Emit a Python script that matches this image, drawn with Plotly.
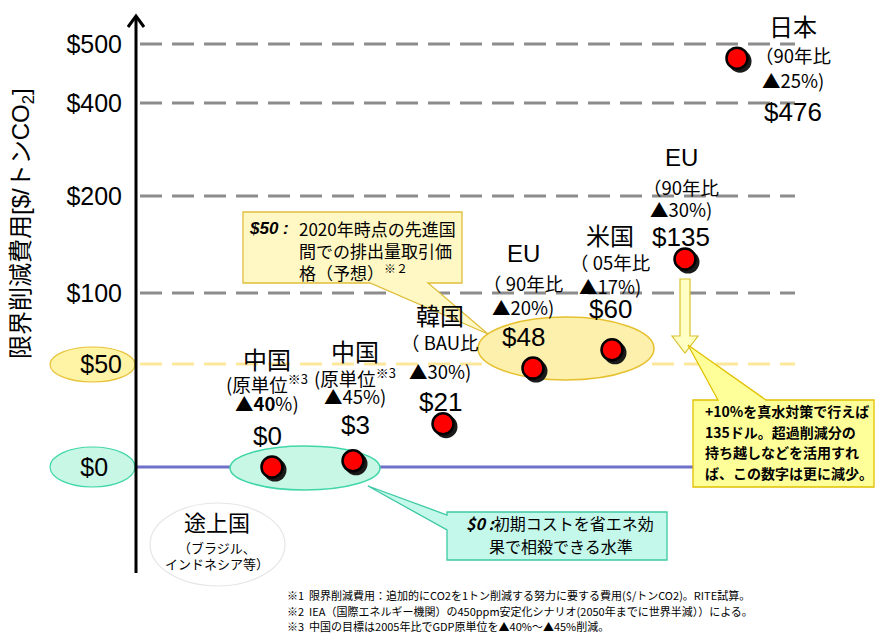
import numpy as np
import plotly.graph_objects as go

# ---------------- data ----------------
countries  = ["中国", "中国", "韓国", "EU", "米国", "EU", "日本"]
base_years = ["(原単位<sup>※3</sup>", "(原単位<sup>※3</sup>", "（ BAU比", "（ 90年比",
              "（ 05年比", "（90年比", "（90年比"]
reductions = ["<b>▲40</b>%)", "▲45%)", "▲30%)", "▲20%)", "▲17%)", "▲30%)", "▲25%)"]
costs      = [0, 3, 21, 48, 60, 135, 476]

tick_values = [0, 50, 100, 200, 400, 500]
tick_labels = ["$0", "$50", "$100", "$200", "$400", "$500"]

footnotes = [
    "※1  限界削減費用：追加的にCO2を1トン削減する努力に要する費用($/トンCO2)。RITE試算。",
    "※2  IEA（国際エネルギー機関）の450ppm安定化シナリオ(2050年までに世界半減））による。",
    "※3  中国の目標は2005年比でGDP原単位を▲40%～▲45%削減。",
]

# ---------------- layout constants ----------------
W, H = 875, 635
AXIS_X = 136
FONT = "Liberation Sans, Noto Sans CJK JP, sans-serif"
JP = "Noto Sans CJK JP, sans-serif"

# the cost axis is piecewise: each tick sits at its own row of the canvas
tick_rows = [467, 364, 293, 196, 103, 44]


def to_axis(v):
    return H - np.interp(v, tick_values, tick_rows)


def row(p):
    return H - p


x_pos = [272, 353, 443, 533, 612, 685, 737]
label_x = [267, 355, 440, 523, 610, 681, 793]
label_rows = [(360, 383, 403, 436), (352, 377, 396, 425), (316, 342, 371, 402),
              (253, 283, 307, 337), (236, 262, 286, 309), (157, 187, 209, 237),
              (27, 55, 80, 112)]

y_pts = to_axis(np.array(costs, dtype=float))

fig = go.Figure()

# drop shadow under each marker
fig.add_trace(go.Scatter(
    x=np.array(x_pos) + 3, y=y_pts - 3, mode="markers",
    marker=dict(size=23, color="#1a1a1a", line=dict(width=0)),
    hoverinfo="skip", showlegend=False))
fig.add_trace(go.Scatter(
    x=x_pos, y=y_pts, mode="markers",
    marker=dict(size=21, color="#ff0000", line=dict(width=2.5, color="#000000")),
    text=countries, showlegend=False))

shapes = []

# reference lines
for v in tick_values:
    if v == 0:
        shapes.append(dict(type="line", x0=AXIS_X, x1=795, y0=to_axis(v), y1=to_axis(v),
                           line=dict(color="#7070c8", width=3), layer="below"))
    elif v == 50:
        shapes.append(dict(type="line", x0=140, x1=795, y0=to_axis(v), y1=to_axis(v),
                           line=dict(color="#fde79a", width=3, dash="22px,10px"), layer="below"))
    else:
        shapes.append(dict(type="line", x0=140, x1=795, y0=to_axis(v), y1=to_axis(v),
                           line=dict(color="#8c8c8c", width=3, dash="22px,10px"), layer="below"))

# ellipses behind tick labels
shapes.append(dict(type="circle", x0=50, x1=135, y0=to_axis(50) - 18, y1=to_axis(50) + 17,
                   fillcolor="#fff3a6", line=dict(color="#e8c23a", width=1.2), layer="below"))
shapes.append(dict(type="circle", x0=50, x1=135, y0=to_axis(0) - 20, y1=to_axis(0) + 20,
                   fillcolor="#c8f7e6", line=dict(color="#3fd6a8", width=1.2), layer="below"))

# group ellipses
shapes.append(dict(type="circle", x0=478, x1=654, y0=row(380), y1=row(317),
                   fillcolor="#fdf0ad", line=dict(color="#e6c02e", width=1.5), layer="below"))
shapes.append(dict(type="circle", x0=230, x1=380, y0=row(490), y1=row(446),
                   fillcolor="#c8f7e6", line=dict(color="#3fd6a8", width=1.5), layer="below"))
shapes.append(dict(type="circle", x0=150, x1=285, y0=row(586), y1=row(503),
                   fillcolor="#ffffff", line=dict(color="#e6e6e6", width=1.2), layer="below"))


def path(points):
    return "M " + " L ".join(f"{x},{row(y)}" for x, y in points) + " Z"


# callout: $50 carbon price
shapes.append(dict(type="path", path=path([(243, 212), (462, 212), (462, 283), (428, 283),
                                           (488, 334), (370, 283), (243, 283)]),
                   fillcolor="#fff8c4", line=dict(color="#e0bd3c", width=1.3)))
# callout: $0 developing countries
shapes.append(dict(type="path", path=path([(447, 512), (667, 512), (667, 560), (447, 560),
                                           (447, 530), (368, 486), (447, 515)]),
                   fillcolor="#c4f8ea", line=dict(color="#3cc9a4", width=1.3)))
# down arrow under EU $135
shapes.append(dict(type="path", path=path([(680, 279), (690, 279), (690, 336), (698, 336),
                                           (685, 353), (672, 336), (680, 336)]),
                   fillcolor="#ffffc4", line=dict(color="#d9c22e", width=1.2)))
# callout: note on $135
shapes.append(dict(type="path", path=path([(693, 400), (718, 400), (688, 345), (766, 400),
                                           (874, 400), (874, 487), (693, 487)]),
                   fillcolor="#ffff99", line=dict(color="#e0c000", width=1.3)))

# vertical axis with open arrowhead
shapes.append(dict(type="line", x0=AXIS_X, x1=AXIS_X, y0=row(573), y1=row(16),
                   line=dict(color="#000000", width=3)))
shapes.append(dict(type="path", path=f"M {AXIS_X - 8},{row(27)} L {AXIS_X},{row(16)} L {AXIS_X + 8},{row(27)}",
                   line=dict(color="#000000", width=3)))

annotations = []


def txt(x, y, text, size, anchor="center", family=FONT, color="#000000"):
    annotations.append(dict(x=x, y=row(y), text=text, showarrow=False, xanchor=anchor,
                            yanchor="middle", font=dict(size=size, family=family, color=color)))


# country labels
for i in range(len(costs)):
    r_name, r_base, r_red, r_cost = label_rows[i]
    lx = label_x[i]
    txt(lx, r_name, countries[i], 24)
    txt(lx, r_base, base_years[i], 18.5, family=JP)
    txt(lx, r_red, reductions[i], 18.5, family=JP)
    txt(lx, r_cost, f"${costs[i]}", 26)

# developing countries
txt(217, 523, "途上国", 22)
txt(217, 547, "（ブラジル、", 13, family=JP)
txt(217, 563, "インドネシア等）", 13, family=JP)

# callout texts
txt(247, 228, "<b><i>$50 :</i></b>", 17, anchor="left")
txt(297, 228, "2020年時点の先進国", 17, anchor="left", family=JP)
txt(297, 250, "間での排出量取引価", 17, anchor="left", family=JP)
txt(297, 272, "格（予想）<sup>※２</sup>", 17, anchor="left", family=JP)

txt(464, 523, "<b><i>$0</i></b>\u00a0<b><i>:</i></b>初期コストを省エネ効", 16, anchor="left", family=JP)
txt(487, 546, "果で相殺できる水準", 16, anchor="left", family=JP)

for k, line in enumerate(["+10%を真水対策で行えば", "135ドル。超過削減分の",
                          "持ち越しなどを活用すれ", "ば、この数字は更に減少。"]):
    txt(703, 411 + k * 20.5, f"<b>{line}</b>", 14, anchor="left", family=JP)

# footnotes
for k, line in enumerate(footnotes):
    txt(285, 595 + k * 15.5, line, 11, anchor="left", family=JP)

# axis title
annotations.append(dict(x=22, y=row(224), text="限界削減費用[$/トンCO<sub>2</sub>]", showarrow=False,
                        textangle=-90, xanchor="center", yanchor="middle",
                        font=dict(size=24, family=FONT, color="#000000")))

fig.update_layout(
    width=W, height=H, margin=dict(l=0, r=0, t=0, b=0),
    paper_bgcolor="#ffffff", plot_bgcolor="#ffffff",
    shapes=shapes, annotations=annotations,
    xaxis=dict(range=[0, W], visible=False, fixedrange=True),
    yaxis=dict(range=[0, H], anchor="free", position=AXIS_X / W, showgrid=False,
               zeroline=False, showline=False, ticks="",
               tickvals=list(to_axis(np.array(tick_values, dtype=float))),
               ticktext=[t if t != "$0" else "$0\u00a0\u00a0" for t in tick_labels],
               ticklabelstandoff=14,
               tickfont=dict(size=25, family=FONT, color="#000000"), fixedrange=True),
    font=dict(family=FONT),
)

fig.write_html("out.html")
